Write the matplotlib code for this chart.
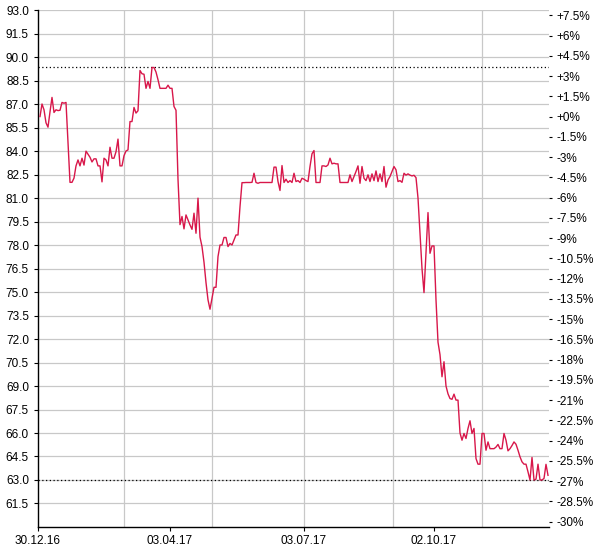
import matplotlib
matplotlib.use("Agg")
import matplotlib.pyplot as plt
import numpy as np

plt.rcParams['font.family'] = ['Liberation Sans', 'DejaVu Sans']

# daily closes (one per trading day)
prices = [
    86.2, 87.0, 86.63, 85.8, 85.52, 86.5, 87.42, 86.46, 86.63, 86.58,
    86.6, 87.1, 87.05, 87.1, 84.5, 82.0, 82.0, 82.27, 83.05, 83.43,
    83.05, 83.54, 83.1, 83.99, 83.8, 83.6, 83.3, 83.5, 83.5, 83.05,
    83.05, 82.03, 83.54, 83.43, 83.05, 84.24, 83.54, 83.54, 83.95, 84.76,
    83.05, 83.05, 83.7, 84.0, 84.07, 85.88, 85.88, 86.78, 86.42, 86.57,
    89.14, 88.93, 88.9, 88.0, 88.44, 88.0, 89.33, 89.33, 89.04, 88.55,
    88.0, 88.0, 88.0, 88.0, 88.2, 88.0, 88.0, 86.84,
    86.6, 82.2, 79.3, 79.82, 79.03, 79.92, 79.6, 79.28, 79.0, 80.03,
    78.75, 80.99, 78.5, 77.9, 76.9, 75.6, 74.5, 73.9, 74.6, 75.3,
    75.3, 77.26, 78.0, 78.0, 78.48, 78.48, 77.9, 78.1, 78.0, 78.32,
    78.64, 78.64, 80.45, 81.98, 81.98,
    81.99, 81.99, 81.99, 82.0, 82.58, 81.99, 81.94, 81.99, 81.99, 81.99,
    81.99, 81.99, 81.99, 81.99, 82.97, 82.97, 82.05, 81.48, 83.07, 81.99,
    82.2, 81.99, 82.11, 81.99, 82.58, 82.05, 82.11, 81.99, 82.26, 82.2,
    82.11, 82.05, 83.01, 83.82, 84.03, 81.99, 81.99, 81.99, 83.05, 83.05,
    83.01, 83.11, 83.54, 83.18, 83.22, 83.18, 83.18, 81.99, 81.99, 81.99,
    81.99, 81.99, 82.48, 82.05, 82.37, 82.69, 83.05, 81.94, 83.01, 82.26,
    82.11, 82.48, 82.05, 82.54, 82.11, 82.73, 82.05, 82.54, 82.05, 83.01,
    81.69, 82.15, 82.37, 82.69, 83.01, 82.8, 82.05, 82.11, 82.0, 82.58,
    82.46, 82.54, 82.46, 82.41,
    82.45, 82.3, 81.0, 78.7, 76.5, 74.96, 77.5, 80.07, 77.47, 77.94,
    77.94, 74.5, 71.8, 71.0, 69.59, 70.55, 69.0, 68.5, 68.2, 68.15,
    68.48, 68.1, 68.1,
    66.0, 65.54, 65.97, 65.65, 66.29, 66.78, 65.97, 66.29, 64.37, 64.01,
    64.01, 65.97, 65.97, 64.9, 65.43, 65.0, 65.0, 65.0, 65.1, 65.27,
    65.0, 65.0, 65.97, 65.54, 64.86, 65.0, 65.2, 65.43, 65.28, 64.9,
    64.48, 64.16, 64.01, 64.01, 63.52, 63.0, 64.44, 63.0, 63.05, 64.01,
    63.0, 63.0, 63.1, 64.0, 63.3,
]

date_labels = ['30.12.16', '03.04.17', '03.07.17', '02.10.17']
date_pos = [0, 66, 133, 198]          # trading-day index of each label
month_grid = [43, 87, 133, 177.5, 222]  # bi-monthly vertical gridlines

price_ticks = np.arange(61.5, 93.01, 1.5)
pct_ticks = np.arange(-30, 7.51, 1.5)

base = prices[0]
x = np.arange(1, len(prices) + 1)

fig = plt.figure(figsize=(6, 5.5), dpi=100)
ax = fig.add_axes([38 / 600, 1 - 527 / 550, (549 - 38) / 600, (527 - 10) / 550])

grid_c = '#c8c8c8'
for p in price_ticks:
    ax.axhline(p, color=grid_c, lw=0.9, zorder=1)
for g in month_grid:
    ax.axvline(g, color=grid_c, lw=0.9, zorder=1)

ax.plot(x, prices, color='#d8174a', lw=1.0, zorder=3)

# max / min reference lines
ax.axhline(max(prices), color='black', lw=0.9, ls=(0, (1, 2)), zorder=2)
ax.axhline(min(prices), color='black', lw=0.9, ls=(0, (1, 2)), zorder=2)

ax.set_xlim(0, len(prices) + 0.5)
ax.set_ylim(60, 93)
ax.set_yticks(price_ticks)
ax.set_yticklabels(['%.1f' % p for p in price_ticks])
ax.set_xticks(date_pos)
ax.set_xticklabels(date_labels)

for s in ['top', 'right']:
    ax.spines[s].set_visible(False)
for s in ['left', 'bottom']:
    ax.spines[s].set_color('black')
    ax.spines[s].set_linewidth(1.0)
ax.tick_params(axis='both', labelsize=8.5, length=3, width=0.8, colors='black')
ax.tick_params(axis='y', pad=3.5)
ax.tick_params(axis='x', pad=3)

# percent scale relative to first close
ax2 = ax.twinx()
ax2.set_ylim((60 / base - 1) * 100, (93 / base - 1) * 100)
ax2.set_yticks(pct_ticks)
ax2.set_yticklabels(['%+g%%' % t for t in pct_ticks])
for s in ax2.spines.values():
    s.set_visible(False)
ax2.tick_params(axis='y', labelsize=8.5, length=2.5, width=0.8, pad=3, colors='black')

fig.savefig('out.png', dpi=100)
